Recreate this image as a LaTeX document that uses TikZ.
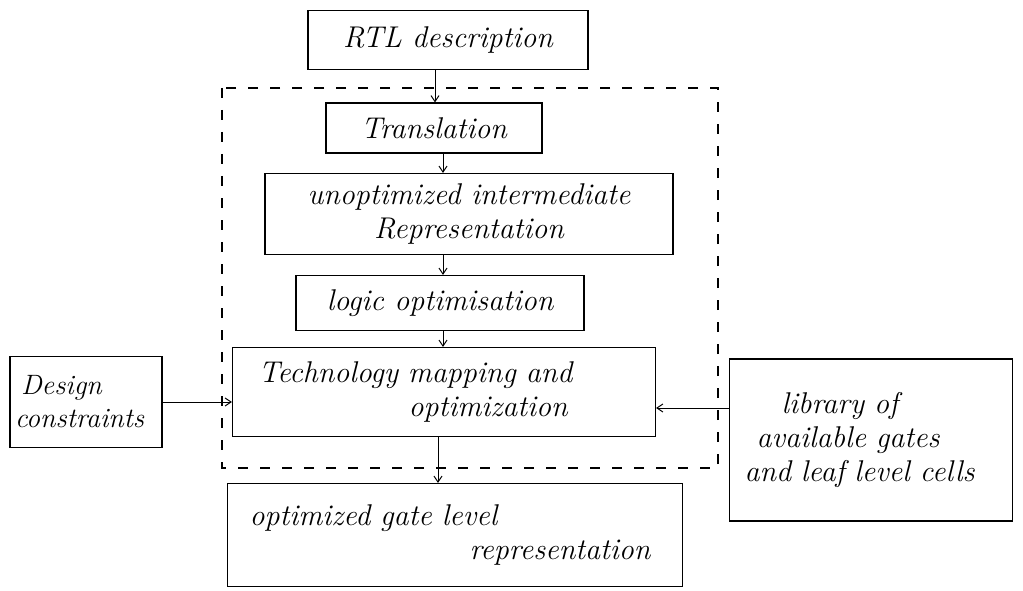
\documentclass[tikz,border=0pt]{standalone}
\usepackage{fontspec}
\setmainfont{Latin Modern Roman}
\usetikzlibrary{arrows.meta,calc}
\begin{document}
\begin{tikzpicture}[x=1pt,y=-1pt,
  box/.style={draw,line width=1.1pt,inner sep=2pt,font=\fontsize{30}{34}\selectfont\itshape},
  arr/.style={line width=1pt,-{Straight Barb[length=6pt,width=8pt]}},
  region/.style={draw,line width=1.1pt,dash pattern=on 10pt off 12pt}]
\useasboundingbox (0,0) rectangle (1023,591);
\fill[white] (0,0) rectangle (1023,591);
% dashed region
\draw[region] (222,88) rectangle (718,468);
\node[box,minimum width=280pt,minimum height=59pt] (rtl) at (448,40) {RTL description};
\node[box,minimum width=216pt,minimum height=50pt] (trans) at (434,128) {Translation};
\node[box,minimum width=408pt,minimum height=81pt,align=center] (unopt) at (469,214) {unoptimized intermediate\\Representation};
\node[box,minimum width=288pt,minimum height=55pt] (logic) at (440,303) {logic optimisation};
\node[box,minimum width=423pt,minimum height=89pt,text width=371pt,align=left,inner xsep=24pt] (tech) at (444,392) {Technology mapping and\\\hspace*{150pt}optimization};
\node[box,minimum width=152pt,minimum height=91pt,text width=142pt,align=left,inner xsep=4pt,font=\fontsize{28}{33}\selectfont\itshape] (design) at (86,402) {\hspace*{6pt}Design\\constraints};
\node[box,minimum width=283pt,minimum height=162pt,text width=253pt,align=left,inner xsep=13pt] (lib) at (871,440) {\hspace*{37pt}library of\\\hspace*{12pt}available gates\\and leaf level cells};
\node[box,minimum width=455pt,minimum height=103pt,text width=411pt,align=left,inner xsep=20pt] (opt) at (455,535) {optimized gate level\\\hspace*{220pt}representation};
% arrows
\draw[arr] (rtl.south -| 435,0) -- (trans.north -| 435,0);
\draw[arr] (trans.south -| 443,0) -- (unopt.north -| 443,0);
\draw[arr] (unopt.south -| 443,0) -- (logic.north -| 443,0);
\draw[arr] (logic.south -| 443,0) -- (tech.north -| 443,0);
\draw[arr] (tech.south -| 438,0) -- (opt.north -| 438,0);
\draw[arr] (design.east |- 0,402) -- (tech.west |- 0,402);
\draw[arr] (lib.west |- 0,408) -- (tech.east |- 0,408);
\end{tikzpicture}
\end{document}
